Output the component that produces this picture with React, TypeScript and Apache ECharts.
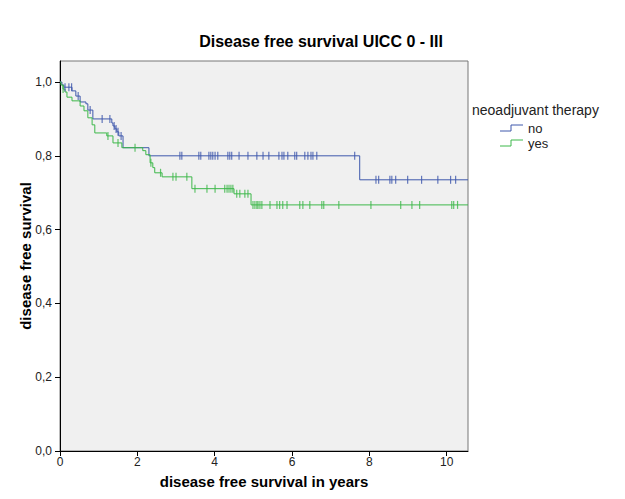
import React, { useEffect, useRef } from "react";
import * as echarts from "echarts";

const chartTitle = "Disease free survival UICC 0 - III";
const xAxisName = "disease free survival in years";
const yAxisName = "disease free survival";
const legendTitle = "neoadjuvant therapy";
const groupNames = ["no", "yes"];
const groupColors = ["#3E58AC", "#3DB84A"];

const xMax = 10.55;
const yMax = 1.057;
const xTicks = [0, 2, 4, 6, 8, 10];
const yTicks = [0, 0.2, 0.4, 0.6, 0.8, 1.0];

// [time, survival after drop]
const noSteps: [number, number][] = [
  [0.05, 0.992], [0.1, 0.986], [0.31, 0.976], [0.41, 0.962], [0.52, 0.946],
  [0.67, 0.941], [0.72, 0.924], [0.85, 0.9], [1.34, 0.889], [1.37, 0.881],
  [1.42, 0.873], [1.47, 0.865], [1.52, 0.854], [1.63, 0.822], [2.3, 0.8],
  [7.75, 0.735],
];
const noCensored = [
  0.13, 0.23, 0.3, 0.47, 0.78, 1.09, 1.29, 1.4, 1.45, 1.5, 1.58,
  3.1, 3.15, 3.59, 3.64, 3.85, 3.9, 3.95, 4.01, 4.08, 4.34, 4.39, 4.44, 4.63,
  4.86, 5.09, 5.25, 5.4, 5.66, 5.74, 5.79, 5.89, 6.07, 6.12, 6.33, 6.41, 6.49,
  6.54, 6.64, 7.62, 8.17, 8.24, 8.53, 8.58, 8.68, 8.99, 9.35, 9.77, 10.1, 10.23,
];

const yesSteps: [number, number][] = [
  [0.026, 0.992], [0.078, 0.981], [0.129, 0.973], [0.18, 0.959], [0.31, 0.949],
  [0.52, 0.935], [0.62, 0.922], [0.72, 0.903], [0.83, 0.884], [0.9, 0.862],
  [1.21, 0.854], [1.37, 0.835], [1.6, 0.822], [2.14, 0.814], [2.22, 0.803],
  [2.33, 0.781], [2.4, 0.768], [2.45, 0.754], [2.64, 0.743], [3.41, 0.711],
  [4.5, 0.697], [4.94, 0.667],
];
const yesCensored = [
  0.08, 1.24, 1.5, 1.94, 2.35, 2.6, 2.92, 3.0, 3.28, 3.49, 3.8, 4.01, 4.26,
  4.32, 4.37, 4.42, 4.47, 4.57, 4.65, 4.78, 4.86, 4.99, 5.04, 5.09, 5.12, 5.17,
  5.22, 5.43, 5.61, 5.68, 5.76, 5.87, 6.2, 6.28, 6.46, 6.77, 6.82, 7.21, 8.04,
  8.81, 9.1, 9.3, 10.13, 10.18, 10.28,
];

function survivalAt(steps: [number, number][], t: number) {
  let s = 1;
  for (const [tt, v] of steps) if (tt <= t) s = v;
  return s;
}

function curve(steps: [number, number][]) {
  const last = steps[steps.length - 1][1];
  return [[0, 1], ...steps, [xMax, last]];
}

const FONT = "Liberation Sans, Arial, sans-serif";

export default function App() {
  const ref = useRef<HTMLDivElement>(null);
  useEffect(() => {
    if (!ref.current) return;
    const chart = echarts.init(ref.current, null, { renderer: "svg" });
    const groups = [
      { steps: noSteps, cens: noCensored },
      { steps: yesSteps, cens: yesCensored },
    ];
    const series: any[] = [];
    groups.forEach((g, i) => {
      series.push({
        type: "line",
        name: groupNames[i],
        step: "end",
        data: curve(g.steps),
        showSymbol: false,
        lineStyle: { color: groupColors[i], width: 1 },
        z: 3,
      });
      series.push({
        type: "scatter",
        name: groupNames[i] + " censored",
        data: g.cens.map((t) => [t, survivalAt(g.steps, t)]),
        symbol: "rect",
        symbolSize: [1.2, 8],
        itemStyle: { color: groupColors[i] },
        z: 4,
      });
    });

    const legendGraphics: any[] = [
      {
        type: "text",
        left: 472,
        top: 103,
        style: { text: legendTitle, font: `14px ${FONT}`, fill: "#222" },
      },
    ];
    groupNames.forEach((n, i) => {
      const yLow = 131 + i * 15;
      legendGraphics.push({
        type: "polyline",
        shape: { points: [[500, yLow], [511, yLow], [511, yLow - 6], [523, yLow - 6]] },
        style: { stroke: groupColors[i], lineWidth: 1, fill: null },
      });
      legendGraphics.push({
        type: "text",
        x: 528,
        y: yLow - 3,
        style: { text: n, font: `13px ${FONT}`, fill: "#222", verticalAlign: "middle" },
      });
    });

    chart.setOption({
      animation: false,
      backgroundColor: "#ffffff",
      textStyle: { fontFamily: FONT },
      title: {
        text: chartTitle,
        left: 316,
        textAlign: "center",
        top: 28,
        textStyle: { fontSize: 16, fontWeight: "bold", color: "#000", fontFamily: FONT },
      },
      grid: {
        left: 60,
        top: 61,
        right: 157,
        bottom: 48,
        show: true,
        backgroundColor: "#f0f0f0",
        borderColor: "#777",
        borderWidth: 1,
      },
      xAxis: {
        type: "value",
        min: 0,
        max: xMax,
        name: xAxisName,
        nameLocation: "middle",
        nameGap: 23,
        nameTextStyle: { fontSize: 15, fontWeight: "bold", color: "#000", fontFamily: FONT },
        axisLine: { show: true, onZero: false, lineStyle: { color: "#000", width: 1 } },
        axisTick: { show: true, length: 5, lineStyle: { color: "#000" }, customValues: xTicks },
        axisLabel: { color: "#222", fontSize: 12, margin: 5, customValues: xTicks, formatter: (v: number) => String(v) },
        splitLine: { show: false },
      },
      yAxis: {
        type: "value",
        min: 0,
        max: yMax,
        name: yAxisName,
        nameLocation: "middle",
        nameGap: 27,
        nameMoveOverlap: false,
        nameTextStyle: { fontSize: 15, fontWeight: "bold", color: "#000", fontFamily: FONT },
        axisLine: { show: true, onZero: false, lineStyle: { color: "#000", width: 1 } },
        axisTick: { show: true, length: 5, lineStyle: { color: "#000" }, customValues: yTicks },
        axisLabel: {
          color: "#222",
          fontSize: 12,
          margin: 8,
          customValues: yTicks,
          formatter: (v: number) => v.toFixed(1).replace(".", ","),
        },
        splitLine: { show: false },
      },
      graphic: legendGraphics,
      series,
    });
    return () => chart.dispose();
  }, []);
  return <div ref={ref} style={{ position: "fixed", left: 0, top: 0, width: 625, height: 499 }} />;
}
